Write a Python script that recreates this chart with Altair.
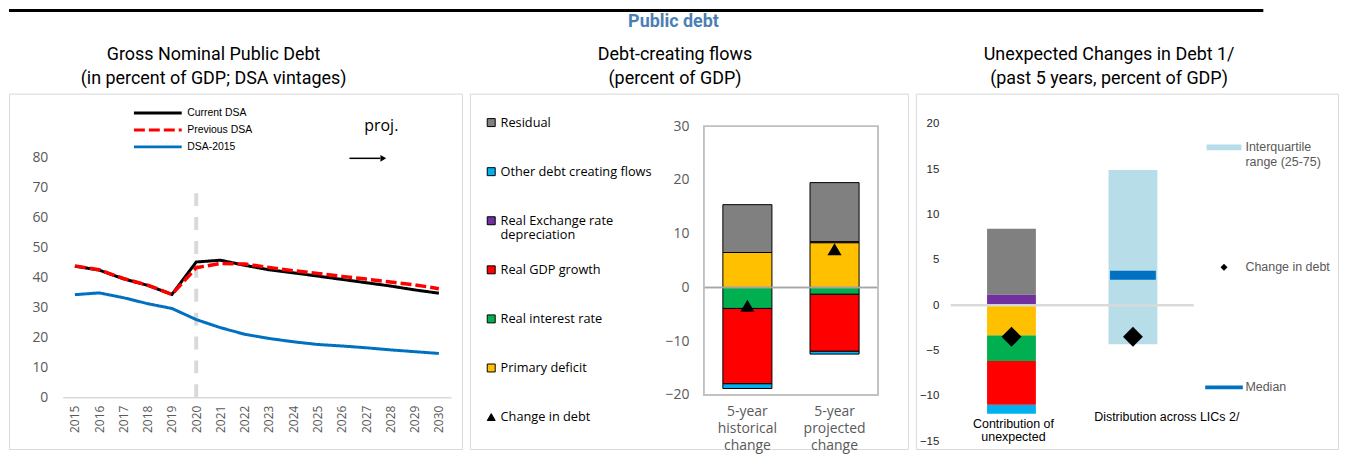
import altair as alt
import pandas as pd

# ---------------- Panel 1: Gross nominal public debt ----------------
years = [str(y) for y in range(2015, 2031)]
current_dsa = [43.7, 42.4, 39.5, 37.3, 34.3, 45.1, 45.7, 44.0, 42.5, 41.5, 40.4, 39.3, 38.2, 37.1, 35.8, 34.7]
previous_dsa = [43.8, 42.5, 39.6, 37.4, 34.3, 43.2, 44.6, 44.4, 43.3, 42.2, 41.3, 40.3, 39.4, 38.4, 37.5, 36.2]
dsa_2015 = [34.2, 34.8, 33.2, 31.2, 29.6, 25.9, 23.2, 21.0, 19.6, 18.5, 17.6, 17.1, 16.5, 15.8, 15.2, 14.6]
series_names = ["Current DSA", "Previous DSA", "DSA-2015"]
series_colors = ["#000000", "#ff0000", "#0070c0"]
y1_ticks = [0, 10, 20, 30, 40, 50, 60, 70, 80]
proj_year = ["2020"]
proj_span = [0, 70]

# ---------------- Panel 2: Debt-creating flows ----------------
flow_periods = ["5-year historical change", "5-year projected change"]
flow_components = ["Residual", "Other debt creating flows", "Real Exchange rate depreciation",
                   "Real GDP growth", "Real interest rate", "Primary deficit"]
component_colors = ["#808080", "#00b0f0", "#7030a0", "#ff0000", "#00b050", "#ffc000"]
stack_order = [6, 5, 4, 3, 2, 1]
hist_flows = [8.9, -0.9, 0.0, -14.0, -3.9, 6.5]
proj_flows = [11.0, -0.55, 0.2, -10.6, -1.25, 8.3]
flow_change = [-3.4, 7.1]
flow_ticks = [-20, -10, 0, 10, 20, 30]

# ---------------- Panel 3: Unexpected changes in debt ----------------
unexp_cats = ["Contribution of unexpected", "Distribution across LICs 2/"]
unexp_values = [7.25, -0.99, 1.17, -4.83, -2.82, -3.32]
unexp_change = [-3.47, -3.47]
iqr_low = [-4.3]
iqr_high = [14.9]
lic_median = [3.3]
y3_ticks = [-15, -10, -5, 0, 5, 10, 15, 20]
legend3_items = ["Interquartile range (25-75)", "Change in debt", "Median"]
legend3_colors = ["#b7dde8", "#000000", "#0070c0"]
legend3_shapes = ["M-1,-0.17L1,-0.17L1,0.17L-1,0.17Z",
                  "M0,-0.2L0.2,0L0,0.2L-0.2,0Z",
                  "M-1.08,-0.11L1.08,-0.11L1.08,0.11L-1.08,0.11Z"]

W1, W2, W3, H = 455, 440, 424, 357

def sub_title(lines, dx):
    return alt.TitleParams(lines, font="Roboto", fontSize=18, fontWeight="normal", color="black",
                           lineHeight=24, offset=6, anchor="middle", dx=dx)

# ======== Panel 1 ========
df1 = pd.DataFrame({
    "year": years * 3,
    "value": current_dsa + previous_dsa + dsa_2015,
    "series": [series_names[0]] * 16 + [series_names[1]] * 16 + [series_names[2]] * 16,
})
leg1 = alt.Legend(orient="none", legendX=144, legendY=14, title=None, symbolType="M-6,0L6,0",
                  symbolSize=64, symbolStrokeWidth=3, labelFont="Liberation Sans", labelFontSize=10.5,
                  labelColor="black", rowPadding=4, labelOffset=24, padding=0)
x1 = alt.X("year:O", title=None,
           scale=alt.Scale(type="point", domain=years, range=[54, 444], padding=0.5),
           axis=alt.Axis(labelAngle=270, offset=-(H - 305), domainColor="#d9d9d9", domainWidth=1.5,
                         ticks=False, tickSize=0, labelPadding=8, labelFont="Open Sans",
                         labelFontSize=12, labelColor="#595959", grid=False))
y1 = alt.Y("value:Q", title=None,
           scale=alt.Scale(domain=[0, 80], range=[305, 64], nice=False, zero=False),
           axis=alt.Axis(values=y1_ticks, offset=-39, domain=False, ticks=False, tickSize=0, grid=False,
                         labelPadding=0, labelFont="Open Sans", labelFontSize=14, labelColor="#595959"))
c1 = alt.Color("series:N", scale=alt.Scale(domain=series_names, range=series_colors), legend=leg1)
d1 = alt.StrokeDash("series:N", scale=alt.Scale(domain=series_names, range=[[1, 0], [11, 4], [1, 0]]),
                    legend=leg1)
base1 = alt.Chart(df1)
line_layers = []
for name, w in [("DSA-2015", 3), ("Current DSA", 3), ("Previous DSA", 3.5)]:
    line_layers.append(base1.transform_filter(alt.datum.series == name)
                       .mark_line(strokeWidth=w)
                       .encode(x=x1, y=y1, color=c1, strokeDash=d1))
df_proj = pd.DataFrame({"year": proj_year, "lo": [proj_span[0]], "hi": [proj_span[1]]})
proj_rule = alt.Chart(df_proj).mark_rule(color="#d9d9d9", strokeWidth=4, strokeDash=[13, 11]).encode(
    x=x1, y=alt.Y("lo:Q"), y2="hi:Q")
ann = pd.DataFrame({"t": ["proj."]})
proj_text = alt.Chart(ann).mark_text(font="Open Sans", fontSize=16, color="black").encode(
    text="t:N", x=alt.value(374), y=alt.value(33))
arrow_line = alt.Chart(ann).mark_rule(color="black", strokeWidth=1.5).encode(
    x=alt.value(342), x2=alt.value(373), y=alt.value(65))
arrow_head = alt.Chart(ann).mark_point(shape="triangle-right", filled=True, color="black", size=45,
                                       opacity=1).encode(x=alt.value(376), y=alt.value(65))
p1 = alt.layer(proj_rule, *line_layers, proj_text, arrow_line, arrow_head).properties(
    width=W1, height=H,
    title=sub_title(["Gross Nominal Public Debt", "(in percent of GDP; DSA vintages)"], -22))

# ======== Panel 2 ========
rows = []
for p, vals in zip(flow_periods, [hist_flows, proj_flows]):
    for comp, v, o in zip(flow_components, vals, stack_order):
        if v != 0:
            rows.append({"period": p, "component": comp, "value": v, "ord": o})
df2 = pd.DataFrame(rows)
df2c = pd.DataFrame({"period": flow_periods, "change": flow_change})
legend2_items = flow_components + ["Change in debt"]
legend2_colors = component_colors + ["#000000"]
legend2_shapes = ["square"] * 6 + ["triangle-up"]
df2leg = pd.DataFrame({"component": legend2_items})

leg2 = alt.Legend(orient="none", legendX=15, legendY=22.7, title=None, symbolSize=64,
                  symbolStrokeColor="black", symbolStrokeWidth=1, labelFont="Open Sans", labelFontSize=12.8,
                  labelColor="black", labelOffset=3, rowPadding=21.3, gridAlign="all", padding=0,
                  labelExpr="datum.label == 'Real Exchange rate depreciation' ? "
                            "['Real Exchange rate', 'depreciation'] : datum.label")
x2 = alt.X("period:N", title=None,
           scale=alt.Scale(domain=flow_periods, range=[235, 410], paddingInner=0.437, paddingOuter=0.218),
           axis=alt.Axis(offset=-45, domain=False, ticks=False, tickSize=0, labelPadding=0,
                         labelAngle=0, labelBaseline="top", labelLineHeight=17,
                         labelExpr="split(datum.value, ' ')", labelFont="Open Sans", labelFontSize=14,
                         labelColor="#595959", grid=False))
y2scale = alt.Scale(domain=[-20, 30], range=[302.7, 32.7], nice=False, zero=False)
y2 = alt.Y("value:Q", stack="zero", title=None, scale=y2scale,
           axis=alt.Axis(values=flow_ticks, offset=-220, domain=False, ticks=False, tickSize=0, grid=False,
                         labelPadding=0, labelFont="Open Sans", labelFontSize=14, labelColor="#595959"))
c2scale = alt.Scale(domain=legend2_items, range=legend2_colors)
bars2 = alt.Chart(df2).mark_bar(stroke="black", strokeWidth=1).encode(
    x=x2, y=y2, color=alt.Color("component:N", scale=c2scale, legend=leg2), order=alt.Order("ord:Q"))
zero2 = alt.Chart(df2c).mark_rule(color="#a6a6a6", strokeWidth=1.5).encode(
    y=alt.datum(0), x=alt.value(235), x2=alt.value(410))
frame2 = alt.Chart(df2c).mark_rect(fill="transparent", stroke="#bfbfbf", strokeWidth=1.5).encode(
    x=alt.value(235), x2=alt.value(410), y=alt.datum(30), y2=alt.datum(-20))
tri2 = alt.Chart(df2c).mark_point(shape="triangle-up", filled=True, color="black", size=200, opacity=1).encode(
    x=x2, y=alt.Y("change:Q"))
leglayer2 = alt.Chart(df2leg).transform_filter("false").mark_point(filled=True, opacity=1).encode(
    color=alt.Color("component:N", scale=c2scale, legend=leg2),
    shape=alt.Shape("component:N", scale=alt.Scale(domain=legend2_items, range=legend2_shapes), legend=leg2))
p2 = alt.layer(bars2, zero2, frame2, tri2, leglayer2).properties(
    width=W2, height=H, title=sub_title(["Debt-creating flows", "(percent of GDP)"], -14))

# ======== Panel 3 ========
df3 = pd.DataFrame({"cat": [unexp_cats[0]] * 6, "component": flow_components,
                    "value": unexp_values, "ord": stack_order})
df3d = pd.DataFrame({"cat": [unexp_cats[1]], "q25": iqr_low, "q75": iqr_high, "median": lic_median})
df3c = pd.DataFrame({"cat": unexp_cats, "change": unexp_change})
df3leg = pd.DataFrame({"item": legend3_items})
is_dist = "datum.value == 'Distribution across LICs 2/'"
x3 = alt.X("cat:N", title=None,
           scale=alt.Scale(domain=unexp_cats, range=[35, 279], paddingInner=0.598, paddingOuter=0.299),
           axis=alt.Axis(offset=-(H - 325), domain=False, ticks=False, tickSize=0, labelAngle=0,
                         labelBaseline="top", labelLineHeight=13,
                         labelPadding={"condition": {"test": is_dist, "value": -7}, "value": 0},
                         labelOffset={"condition": {"test": is_dist, "value": 34}, "value": 2},
                         labelExpr="datum.value == 'Contribution of unexpected' ? "
                                   "['Contribution of', 'unexpected'] : datum.value",
                         labelFont="Liberation Sans", labelFontSize=12.5, labelColor="black", grid=False))
y3 = alt.Y("value:Q", stack="zero", title=None,
           scale=alt.Scale(domain=[-15, 20], range=[349.3, 30.3], nice=False, zero=False),
           axis=alt.Axis(values=y3_ticks, offset=-23, domain=False, ticks=False, tickSize=0, grid=False,
                         labelPadding=0, labelFont="Liberation Sans", labelFontSize=11.5,
                         labelColor="#262626"))
bars3 = alt.Chart(df3).mark_bar().encode(
    x=x3, y=y3,
    fill=alt.Fill("component:N", scale=alt.Scale(domain=flow_components, range=component_colors),
                  legend=None),
    order=alt.Order("ord:Q"))
dist3 = alt.Chart(df3d).mark_bar(color="#b7dde8").encode(x=x3, y=alt.Y("q25:Q"), y2="q75:Q")
med3 = alt.Chart(df3d).mark_tick(color="#0070c0", thickness=9, size=46, opacity=1).encode(
    x=x3, y=alt.Y("median:Q"))
zero3 = alt.Chart(df3c).mark_rule(color="#d9d9d9", strokeWidth=2).encode(
    y=alt.datum(0), x=alt.value(35), x2=alt.value(279))
dia3 = alt.Chart(df3c).mark_point(shape="diamond", filled=True, color="black", size=400, opacity=1).encode(
    x=x3, y=alt.Y("change:Q"))
leg3 = alt.Legend(orient="none", legendX=292, legendY=36.5, title=None, symbolSize=1225,
                  symbolStrokeWidth=0, labelFont="Liberation Sans", labelFontSize=12.5,
                  labelColor="#595959", labelOffset=4, rowPadding=81.5, gridAlign="all", padding=0,
                  labelExpr="datum.label == 'Interquartile range (25-75)' ? "
                            "['Interquartile', 'range (25-75)'] : datum.label")
leglayer3 = alt.Chart(df3leg).transform_filter("false").mark_point(filled=True, opacity=1).encode(
    color=alt.Color("item:N", scale=alt.Scale(domain=legend3_items, range=legend3_colors), legend=leg3),
    shape=alt.Shape("item:N", scale=alt.Scale(domain=legend3_items, range=legend3_shapes), legend=leg3))
p3 = alt.layer(bars3, dist3, med3, zero3, dia3, leglayer3).properties(
    width=W3, height=H,
    title=sub_title(["Unexpected Changes in Debt 1/", "(past 5 years, percent of GDP)"], -18))

# ======== Assemble ========
top_bar = alt.Chart(pd.DataFrame({"a": [0]})).mark_point(opacity=0, size=1).encode(
    x=alt.value(10), y=alt.value(1.5)).properties(
    width=1260, height=3, view=alt.ViewBackground(fill="black", stroke="black", strokeWidth=0))

main = alt.hconcat(p1, p2, p3, spacing=6).resolve_scale(
    color="independent", strokeDash="independent", shape="independent", fill="independent").resolve_legend(
    color="independent", strokeDash="independent", shape="independent", fill="independent").properties(
    title=alt.TitleParams("Public debt", font="Roboto", fontSize=18, fontWeight="bold", color="#4a7fb5",
                          offset=14, anchor="middle"))
chart = alt.vconcat(top_bar, main, spacing=1).properties(padding=0).configure_view(
    stroke="#d9d9d9", strokeWidth=1)

chart.save("out.html", embed_options={"renderer": "svg", "actions": False})
